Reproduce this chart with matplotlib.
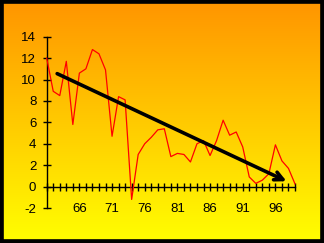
import numpy as np
import matplotlib
matplotlib.use("Agg")
import matplotlib.pyplot as plt
from matplotlib.patches import Rectangle

years = list(range(61, 100))
values = [12.0, 8.9, 8.5, 11.7, 5.8, 10.6, 11.0, 12.8, 12.4, 10.9,
          4.7, 8.4, 8.1, -1.2, 3.0, 4.0, 4.6, 5.3, 5.4, 2.8,
          3.1, 3.0, 2.3, 4.0, 4.3, 2.9, 4.3, 6.2, 4.8, 5.1,
          3.7, 0.9, 0.3, 0.6, 1.2, 3.9, 2.4, 1.7, 0.25]
trend_start = (62.6, 10.55)
trend_end = (97.7, 0.5)
xtick_labels = [66, 71, 76, 81, 86, 91, 96]
yticks = [-2, 0, 2, 4, 6, 8, 10, 12, 14]

W, H = 324, 243
fig = plt.figure(figsize=(W / 100, H / 100), dpi=100)

# gradient background
bg = fig.add_axes([0, 0, 1, 1])
top = np.array([255, 148, 0]) / 255.0
bot = np.array([255, 255, 0]) / 255.0
t = np.linspace(0, 1, 256)[:, None]
grad = top[None, :] * (1 - t) + bot[None, :] * t
grad = np.repeat(grad[:, None, :], 2, axis=1)
bg.imshow(grad, aspect="auto", extent=[0, 1, 0, 1], origin="upper")
bg.set_xlim(0, 1)
bg.set_ylim(0, 1)
bg.axis("off")
bg.add_patch(Rectangle((0, 0), 1, 1, transform=bg.transAxes, fill=False,
                       edgecolor="black", linewidth=5.5, clip_on=True))

left = 46.7 / W
right = 295.0 / W
ybot = 1 - 208.0 / H
ytop = 1 - 36.7 / H
ax = fig.add_axes([left, ybot, right - left, ytop - ybot])
ax.patch.set_alpha(0)
ax.set_xlim(61, 99)
ax.set_ylim(-2, 14)

ax.plot(years, values, color="red", linewidth=0.9, clip_on=False, zorder=3)
ax.annotate("", xy=trend_end, xytext=trend_start,
            arrowprops=dict(arrowstyle="->", color="black", lw=2.6,
                            mutation_scale=15, shrinkA=0, shrinkB=0),
            zorder=4)

for s in ["top", "right"]:
    ax.spines[s].set_visible(False)
ax.spines["bottom"].set_position(("data", 0))
ax.spines["left"].set_linewidth(1.0)
ax.spines["bottom"].set_linewidth(1.0)

ax.set_xticks(years)
ax.set_xticklabels([str(y) if y in xtick_labels else "" for y in years])
ax.set_yticks(yticks)
ax.set_yticklabels([str(v) for v in yticks])
ax.tick_params(axis="x", direction="inout", length=6, width=1.0, pad=8.5,
               labelsize=9.5)
ax.tick_params(axis="y", direction="inout", length=6, width=1.0, pad=4.5,
               labelsize=9.5)
for lab in ax.get_xticklabels() + ax.get_yticklabels():
    lab.set_fontfamily("Liberation Sans")

fig.savefig("out.png", dpi=100)
